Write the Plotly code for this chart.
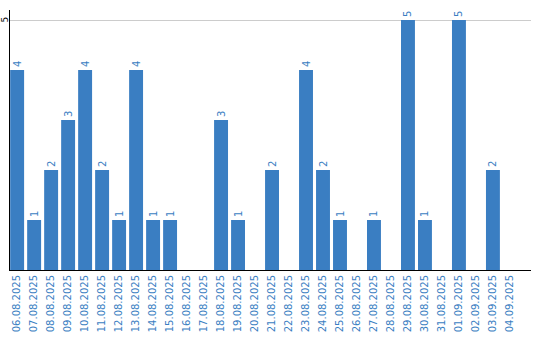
import plotly.graph_objects as go

dates = ["06.08.2025","07.08.2025","08.08.2025","09.08.2025","10.08.2025","11.08.2025",
         "12.08.2025","13.08.2025","14.08.2025","15.08.2025","16.08.2025","17.08.2025",
         "18.08.2025","19.08.2025","20.08.2025","21.08.2025","22.08.2025","23.08.2025",
         "24.08.2025","25.08.2025","26.08.2025","27.08.2025","28.08.2025","29.08.2025",
         "30.08.2025","31.08.2025","01.09.2025","02.09.2025","03.09.2025","04.09.2025"]
values = [4,1,2,3,4,2,1,4,1,1,0,0,3,1,0,2,0,4,2,1,0,1,0,5,1,0,5,0,2,0]
y_ticks = [5]

labels = [str(v) if v > 0 else "" for v in values]

blue = "#3a7ec2"
fig = go.Figure(go.Bar(
    x=dates, y=values, marker_color=blue, marker_line_width=0,
    text=labels, textposition="outside", textangle=-90,
    textfont=dict(color=blue, size=10, family="DejaVu Sans"),
    cliponaxis=False, width=0.82,
))
fig.update_layout(
    width=540, height=340,
    margin=dict(l=10, r=9, t=10, b=70),
    plot_bgcolor="white", paper_bgcolor="white",
    showlegend=False,
    font=dict(family="DejaVu Sans", size=10),
)
for t in y_ticks:
    fig.add_annotation(
        x=0, xref="paper", y=t, yref="y", text=str(t), showarrow=False,
        textangle=-90, xanchor="center", yanchor="middle", xshift=-5.5,
        font=dict(color="black", size=9, family="DejaVu Sans"),
    )
fig.update_xaxes(
    type="category", tickangle=-90, showline=True, linecolor="black", linewidth=1,
    tickfont=dict(color=blue, size=10, family="DejaVu Sans"), ticks="", showgrid=False,
    range=[-0.42, 30.24], automargin=False,
)
fig.update_yaxes(
    range=[0, 5.2], tickvals=y_ticks, showticklabels=False,
    showline=True, linecolor="black", linewidth=1,
    gridcolor="#cccccc", zeroline=False, ticks="", automargin=False,
)
fig.write_html("out.html")
